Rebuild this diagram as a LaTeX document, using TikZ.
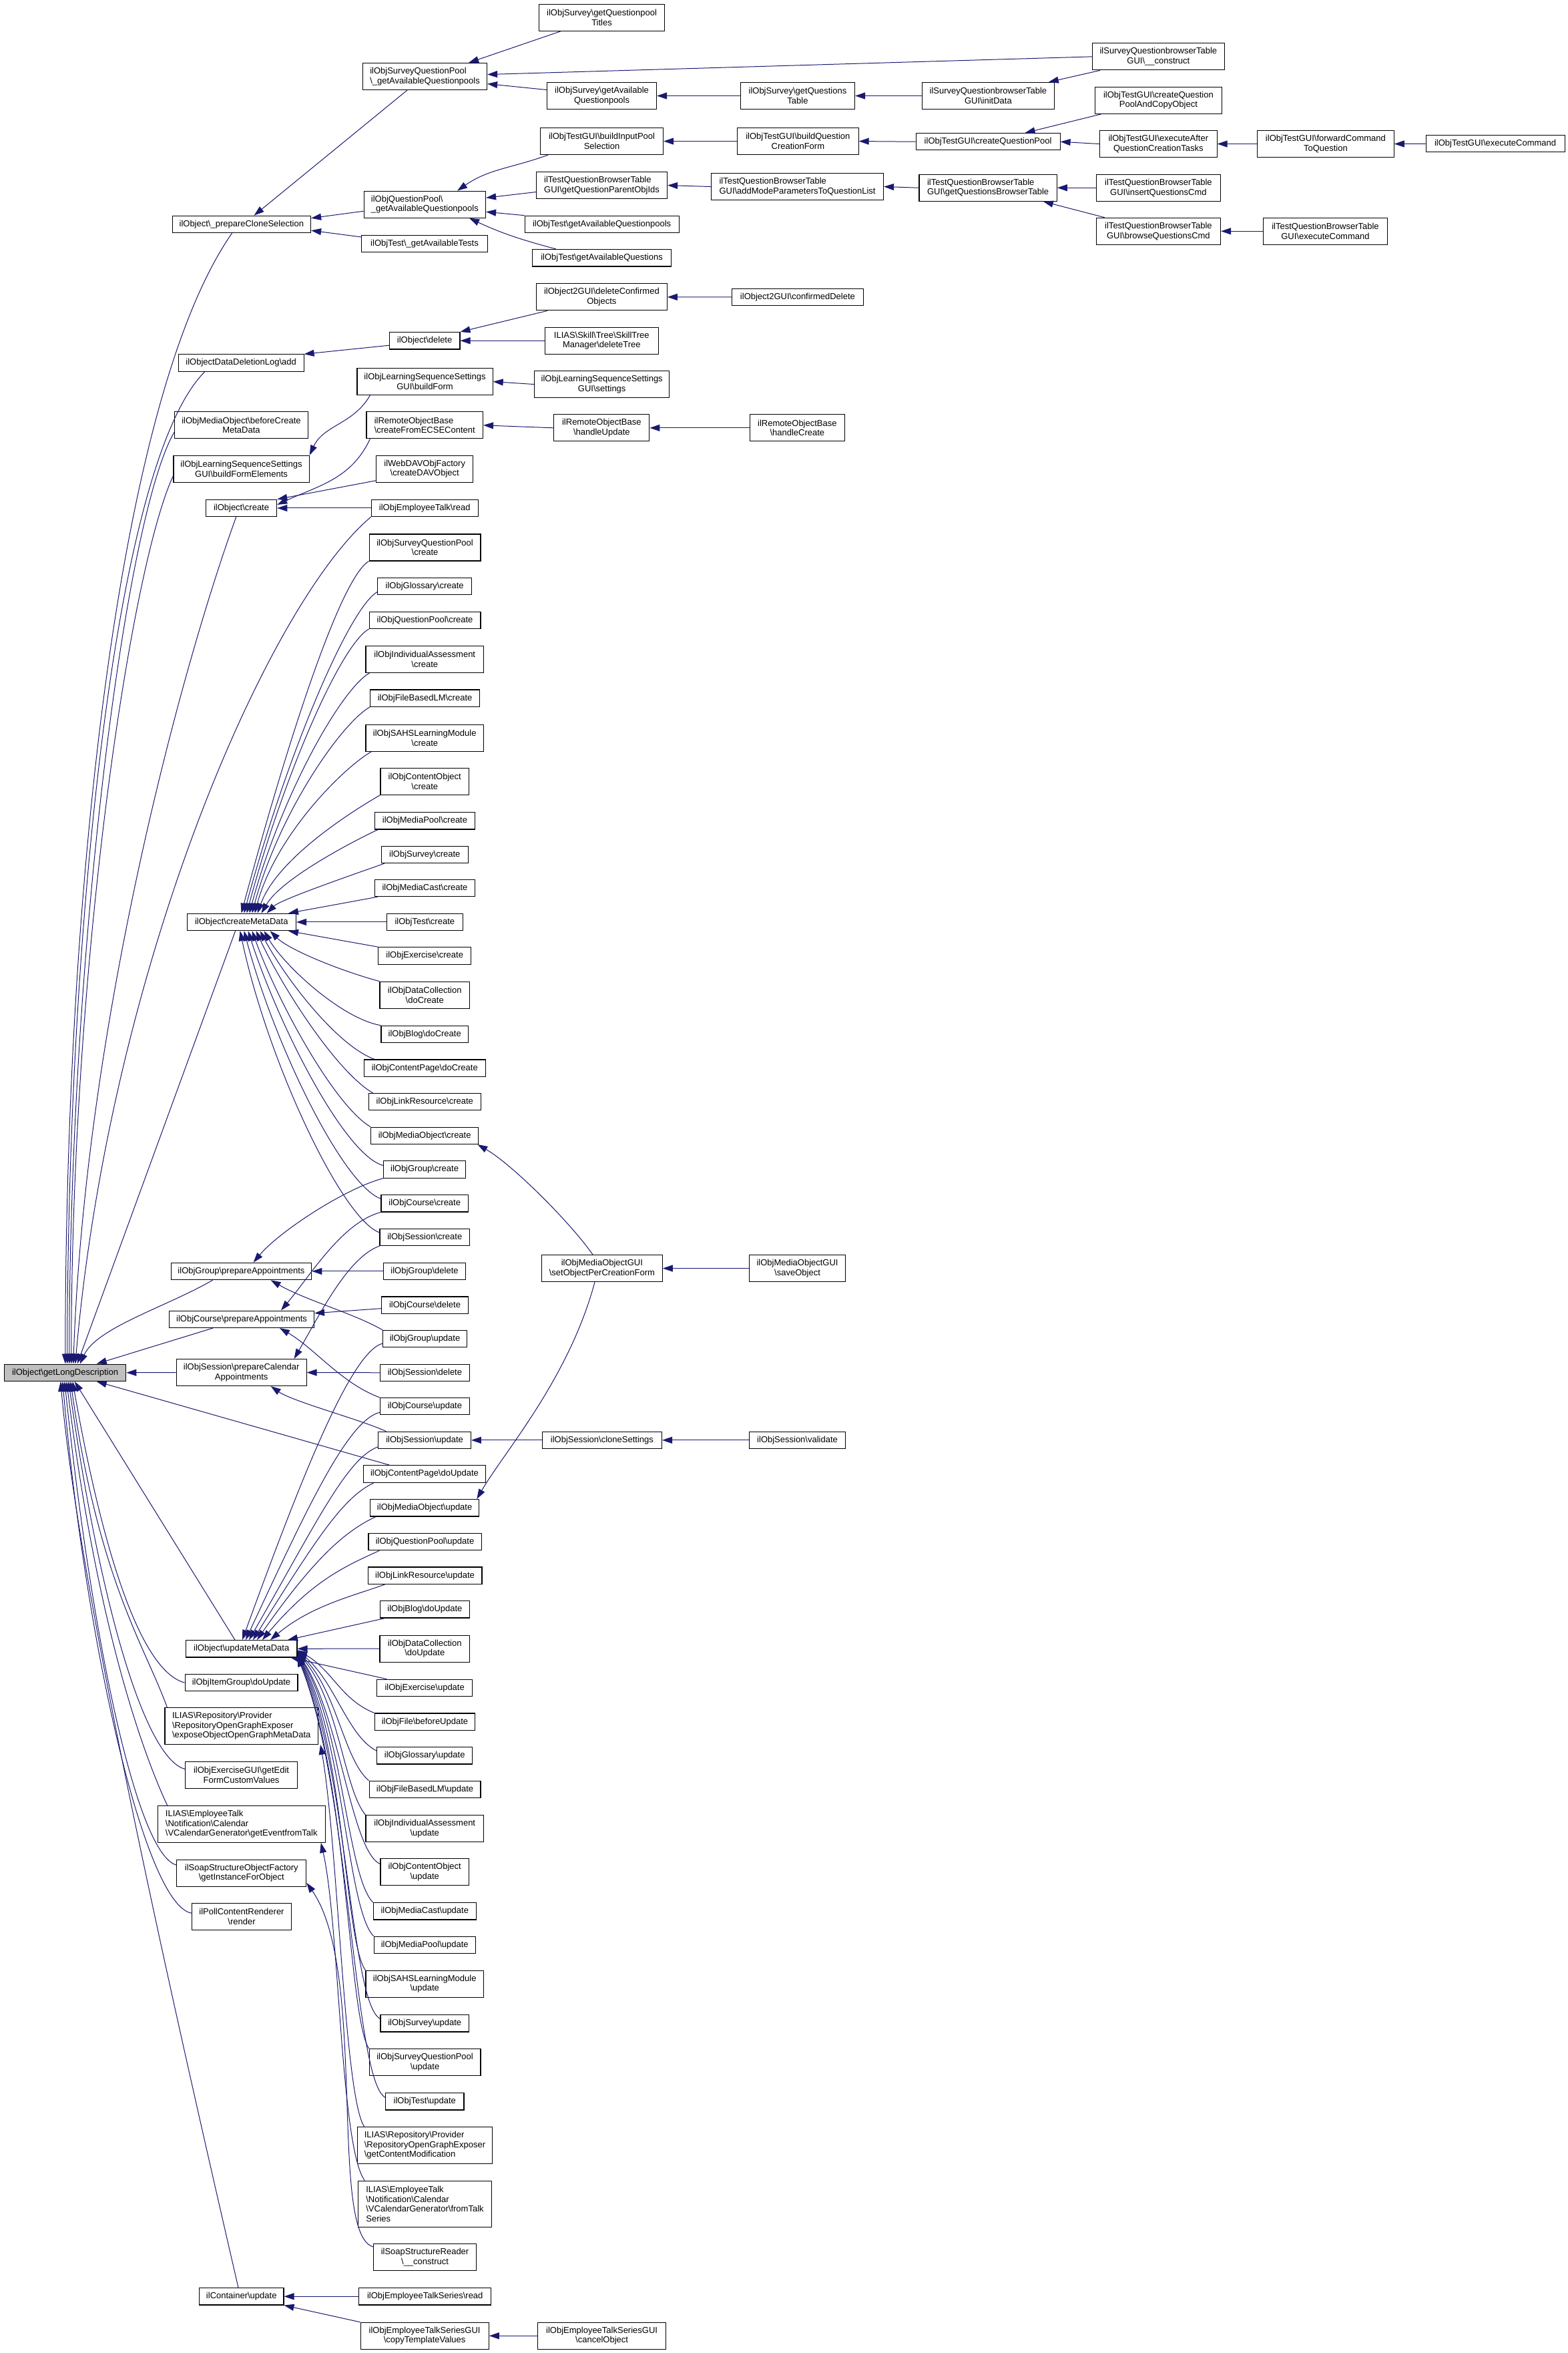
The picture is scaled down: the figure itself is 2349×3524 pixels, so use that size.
\documentclass[tikz,border=0pt]{standalone}
\usepackage{fontspec}
\setmainfont{Liberation Sans}
\usepackage{tikz}
\usetikzlibrary{arrows.meta}
\definecolor{edgeblue}{HTML}{191970}
\definecolor{rootgray}{HTML}{BFBFBF}
\newcommand{\bksl}{\textbackslash}

\begin{document}
\begin{tikzpicture}[x=1pt, y=1pt,
    fn/.style={draw=black, line width=1.1pt, fill=white, anchor=north west, inner sep=0pt, minimum height=25.4pt, align=center, font=\fontsize{13}{14.6}\selectfont},
    two/.style={minimum height=40pt},
    three/.style={minimum height=54.8pt},
    four/.style={minimum height=69.6pt},
    call/.style={draw=edgeblue, line width=1pt, -{Triangle[length=15pt, width=10pt]}}]

    \useasboundingbox (0,0) rectangle (2349,-3524);

    % column 1
    \node [fn, fill=rootgray, minimum width=182.4pt] (root) at (5.8,-2042.5) {ilObject\bksl getLongDescription};

    % column 2
    \node [fn, minimum width=207.4pt] (prepclone) at (257.6,-322.7) {ilObject\bksl\_prepareCloneSelection};
    \node [fn, minimum width=187.8pt] (dellogadd) at (266.7,-530.3) {ilObjectDataDeletionLog\bksl add};
    \node [fn, two, minimum width=200.1pt] (mobbefore) at (260.9,-616.3) {ilObjMediaObject\bksl beforeCreate\\MetaData};
    \node [fn, two, minimum width=203.2pt] (lsbfe) at (259.4,-681.7) {ilObjLearningSequenceSettings\\GUI\bksl buildFormElements};
    \node [fn, minimum width=106.4pt] (objcreate) at (307.8,-747.7) {ilObject\bksl create};
    \node [fn, minimum width=163.3pt] (createmd) at (279.6,-1367.7) {ilObject\bksl createMetaData};
    \node [fn, minimum width=210.7pt] (grpprep) at (255.6,-1890.7) {ilObjGroup\bksl prepareAppointments};
    \node [fn, minimum width=217pt] (crsprep) at (253,-1962.5) {ilObjCourse\bksl prepareAppointments};
    \node [fn, two, minimum width=194.8pt] (sessprep) at (263.7,-2035) {ilObjSession\bksl prepareCalendar\\Appointments};
    \node [fn, minimum width=166.4pt] (updatemd) at (278,-2456) {ilObject\bksl updateMetaData};
    \node [fn, minimum width=168.9pt] (itgrpupd) at (276.5,-2506.8) {ilObjItemGroup\bksl doUpdate};
    \node [fn, three, align=left, minimum width=229.6pt] (ogexpose) at (246.4,-2557) {ILIAS\bksl Repository\bksl Provider\\\bksl RepositoryOpenGraphExposer\\\bksl exposeObjectOpenGraphMetaData};
    \node [fn, two, minimum width=168pt] (excgui) at (277,-2637.9) {ilObjExerciseGUI\bksl getEdit\\FormCustomValues};
    \node [fn, three, align=left, minimum width=251pt] (vcaltalk) at (235.7,-2704) {ILIAS\bksl EmployeeTalk\\\bksl Notification\bksl Calendar\\\bksl VCalendarGenerator\bksl getEventfromTalk};
    \node [fn, two, minimum width=193.9pt] (soapfact) at (264.3,-2784.6) {ilSoapStructureObjectFactory\\\bksl getInstanceForObject};
    \node [fn, two, minimum width=149.5pt] (pollrender) at (286.7,-2849.6) {ilPollContentRenderer\\\bksl render};
    \node [fn, minimum width=126.4pt] (contupd) at (298,-3426) {ilContainer\bksl update};

    % column 3
    \node [fn, two, align=left, minimum width=186pt] (sqpgaq) at (543,-94) {ilObjSurveyQuestionPool\\\bksl\_getAvailableQuestionpools};
    \node [fn, two, align=left, minimum width=182.4pt] (qpgaq) at (544.6,-285.7) {ilObjQuestionPool\bksl\\\_getAvailableQuestionpools};
    \node [fn, minimum width=189pt] (tstgat) at (541,-351.7) {ilObjTest\bksl\_getAvailableTests};
    \node [fn, minimum width=105.6pt] (objdelete) at (582.8,-497) {ilObject\bksl delete};
    \node [fn, two, minimum width=203.2pt] (lsbf) at (534.4,-551) {ilObjLearningSequenceSettings\\GUI\bksl buildForm};
    \node [fn, two, align=left, minimum width=174.6pt] (rmtecs) at (548.4,-616.3) {ilRemoteObjectBase\\\bksl createFromECSEContent};
    \node [fn, two, minimum width=145.3pt] (davcreate) at (563,-681.7) {ilWebDAVObjFactory\\\bksl createDAVObject};
    \node [fn, minimum width=160pt] (etalkread) at (555.7,-747.7) {ilObjEmployeeTalk\bksl read};
    \node [fn, two, minimum width=166.8pt] (sqpcreate) at (552.6,-799.4) {ilObjSurveyQuestionPool\\\bksl create};
    \node [fn, minimum width=140.7pt] (glocreate) at (565.3,-864.9) {ilObjGlossary\bksl create};
    \node [fn, minimum width=166.8pt] (qpcreate) at (552.6,-915.5) {ilObjQuestionPool\bksl create};
    \node [fn, two, minimum width=176.6pt] (iacreate) at (547.4,-966.9) {ilObjIndividualAssessment\\\bksl create};
    \node [fn, minimum width=164pt] (flmcreate) at (554,-1032.4) {ilObjFileBasedLM\bksl create};
    \node [fn, two, minimum width=176.6pt] (sahscreate) at (547.4,-1084.6) {ilObjSAHSLearningModule\\\bksl create};
    \node [fn, two, minimum width=132.6pt] (cobjcreate) at (569.4,-1149.7) {ilObjContentObject\\\bksl create};
    \node [fn, minimum width=149.5pt] (mepcreate) at (561.2,-1216) {ilObjMediaPool\bksl create};
    \node [fn, minimum width=129.5pt] (svycreate) at (571,-1266.6) {ilObjSurvey\bksl create};
    \node [fn, minimum width=150.5pt] (mcstcreate) at (560.7,-1316.7) {ilObjMediaCast\bksl create};
    \node [fn, minimum width=114.3pt] (tstcreate) at (578.6,-1367.7) {ilObjTest\bksl create};
    \node [fn, minimum width=138.7pt] (exccreate) at (566.3,-1418.2) {ilObjExercise\bksl create};
    \node [fn, two, minimum width=134.6pt] (dclcreate) at (568.4,-1469.6) {ilObjDataCollection\\\bksl doCreate};
    \node [fn, minimum width=130.6pt] (blgcreate) at (570.4,-1535.7) {ilObjBlog\bksl doCreate};
    \node [fn, minimum width=181.5pt] (cpgcreate) at (545,-1586.4) {ilObjContentPage\bksl doCreate};
    \node [fn, minimum width=168.5pt] (webrcreate) at (551.5,-1636.8) {ilObjLinkResource\bksl create};
    \node [fn, minimum width=161.3pt] (mobcreate) at (555,-1687.5) {ilObjMediaObject\bksl create};
    \node [fn, minimum width=123pt] (grpcreate) at (574,-1738.2) {ilObjGroup\bksl create};
    \node [fn, minimum width=130.6pt] (crscreate) at (570.4,-1789) {ilObjCourse\bksl create};
    \node [fn, minimum width=134.6pt] (sesscreate) at (568.4,-1839.6) {ilObjSession\bksl create};
    \node [fn, minimum width=123pt] (grpdelete) at (574,-1890.7) {ilObjGroup\bksl delete};
    \node [fn, minimum width=129.4pt] (crsdelete) at (571.3,-1941.4) {ilObjCourse\bksl delete};
    \node [fn, minimum width=126pt] (grpupdate) at (573,-1991.8) {ilObjGroup\bksl update};
    \node [fn, minimum width=134.2pt] (sessdelete) at (568.8,-2042.5) {ilObjSession\bksl delete};
    \node [fn, minimum width=134.2pt] (crsupdate) at (568.8,-2092.9) {ilObjCourse\bksl update};
    \node [fn, minimum width=138.5pt] (sessupdate) at (566.3,-2143.6) {ilObjSession\bksl update};
    \node [fn, minimum width=183pt] (cpgupdate) at (544,-2194.3) {ilObjContentPage\bksl doUpdate};
    \node [fn, minimum width=163.2pt] (mobupdate) at (554,-2245) {ilObjMediaObject\bksl update};
    \node [fn, minimum width=169.2pt] (qpupdate) at (551.4,-2295.7) {ilObjQuestionPool\bksl update};
    \node [fn, minimum width=170.8pt] (webrupdate) at (550.6,-2346.4) {ilObjLinkResource\bksl update};
    \node [fn, minimum width=134.2pt] (blgupdate) at (568.8,-2397) {ilObjBlog\bksl doUpdate};
    \node [fn, two, minimum width=134.6pt] (dclupdate) at (568.4,-2448.6) {ilObjDataCollection\\\bksl doUpdate};
    \node [fn, minimum width=142.7pt] (excupdate) at (564.3,-2514.6) {ilObjExercise\bksl update};
    \node [fn, minimum width=150.5pt] (filebefore) at (560.7,-2565.4) {ilObjFile\bksl beforeUpdate};
    \node [fn, minimum width=142.7pt] (gloupdate) at (564.3,-2616) {ilObjGlossary\bksl update};
    \node [fn, minimum width=166.8pt] (flmupdate) at (552.6,-2666.8) {ilObjFileBasedLM\bksl update};
    \node [fn, two, minimum width=176.6pt] (iaupdate) at (547.4,-2717.9) {ilObjIndividualAssessment\\\bksl update};
    \node [fn, two, minimum width=132.6pt] (cobjupdate) at (569.4,-2783.2) {ilObjContentObject\\\bksl update};
    \node [fn, minimum width=154.1pt] (mcstupdate) at (558.7,-2849) {ilObjMediaCast\bksl update};
    \node [fn, minimum width=152pt] (mepupdate) at (559.7,-2899.6) {ilObjMediaPool\bksl update};
    \node [fn, two, minimum width=176.6pt] (sahsupdate) at (547.4,-2950.7) {ilObjSAHSLearningModule\\\bksl update};
    \node [fn, minimum width=132.6pt] (svyupdate) at (569.4,-3017) {ilObjSurvey\bksl update};
    \node [fn, two, minimum width=166.8pt] (sqpupdate) at (552.6,-3068) {ilObjSurveyQuestionPool\\\bksl update};
    \node [fn, minimum width=117.4pt] (tstupdate) at (577,-3134) {ilObjTest\bksl update};
    \node [fn, three, align=left, minimum width=202.5pt] (ogcontent) at (534.7,-3185) {ILIAS\bksl Repository\bksl Provider\\\bksl RepositoryOpenGraphExposer\\\bksl getContentModification};
    \node [fn, four, align=left, minimum width=199.5pt] (vcalseries) at (536.2,-3265.5) {ILIAS\bksl EmployeeTalk\\\bksl Notification\bksl Calendar\\\bksl VCalendarGenerator\bksl fromTalk\\Series};
    \node [fn, two, minimum width=153.6pt] (soapreader) at (559.2,-3360) {ilSoapStructureReader\\\bksl\_\_construct};
    \node [fn, minimum width=198pt] (etsread) at (537.2,-3426) {ilObjEmployeeTalkSeries\bksl read};
    \node [fn, two, minimum width=192.2pt] (etsgcopy) at (539.5,-3477.7) {ilObjEmployeeTalkSeriesGUI\\\bksl copyTemplateValues};

    % column 4
    \node [fn, two, minimum width=188pt] (svytitles) at (807,-5.7) {ilObjSurvey\bksl getQuestionpool\\Titles};
    \node [fn, two, minimum width=164pt] (svygaq) at (819,-123) {ilObjSurvey\bksl getAvailable\\Questionpools};
    \node [fn, two, minimum width=184pt] (tguiinput) at (809,-191) {ilObjTestGUI\bksl buildInputPool\\Selection};
    \node [fn, two, align=left, minimum width=196pt] (tqbtparent) at (803,-257) {ilTestQuestionBrowserTable\\GUI\bksl getQuestionParentObjIds};
    \node [fn, minimum width=230.8pt] (tstgaqp) at (785.7,-322.7) {ilObjTest\bksl getAvailableQuestionpools};
    \node [fn, minimum width=208pt] (tstgaqs) at (797,-373) {ilObjTest\bksl getAvailableQuestions};
    \node [fn, two, minimum width=195.7pt] (o2delobj) at (803,-424.3) {ilObject2GUI\bksl deleteConfirmed\\Objects};
    \node [fn, two, minimum width=169.5pt] (skldel) at (816,-489.7) {ILIAS\bksl Skill\bksl Tree\bksl SkillTree\\Manager\bksl deleteTree};
    \node [fn, two, minimum width=202.3pt] (lssettings) at (800,-555) {ilObjLearningSequenceSettings\\GUI\bksl settings};
    \node [fn, two, minimum width=143pt] (rmtupdate) at (829.3,-620.3) {ilRemoteObjectBase\\\bksl handleUpdate};
    \node [fn, two, minimum width=180.7pt] (mobguiset) at (811,-1879) {ilObjMediaObjectGUI\\\bksl setObjectPerCreationForm};
    \node [fn, minimum width=179.1pt] (sessclone) at (811.8,-2143.6) {ilObjSession\bksl cloneSettings};
    \node [fn, two, minimum width=191.5pt] (etsgcancel) at (805.3,-3477.7) {ilObjEmployeeTalkSeriesGUI\\\bksl cancelObject};

    % column 5
    \node [fn, two, minimum width=171.2pt] (svyqtable) at (1108.8,-123) {ilObjSurvey\bksl getQuestions\\Table};
    \node [fn, two, minimum width=181.6pt] (tguibqcf) at (1104,-191) {ilObjTestGUI\bksl buildQuestion\\CreationForm};
    \node [fn, two, align=left, minimum width=258pt] (tqbtaddmode) at (1065,-259) {ilTestQuestionBrowserTable\\GUI\bksl addModeParametersToQuestionList};
    \node [fn, minimum width=196.8pt] (o2confdel) at (1096,-431.7) {ilObject2GUI\bksl confirmedDelete};
    \node [fn, two, minimum width=142.4pt] (rmtcreate) at (1122.6,-620.3) {ilRemoteObjectBase\\\bksl handleCreate};
    \node [fn, two, minimum width=144pt] (mobguisave) at (1122,-1879) {ilObjMediaObjectGUI\\\bksl saveObject};
    \node [fn, minimum width=144pt] (sessvalidate) at (1122,-2143.6) {ilObjSession\bksl validate};

    % columns 6 to 9
    \node [fn, two, minimum width=197.7pt] (sqbtinit) at (1381,-123) {ilSurveyQuestionbrowserTable\\GUI\bksl initData};
    \node [fn, minimum width=215.9pt] (tguicqp) at (1371.6,-199) {ilObjTestGUI\bksl createQuestionPool};
    \node [fn, two, align=left, minimum width=206.3pt] (tqbtbrowse) at (1376.4,-260.7) {ilTestQuestionBrowserTable\\GUI\bksl getQuestionsBrowserTable};
    \node [fn, two, minimum width=197.6pt] (sqbtconstr) at (1636,-64.3) {ilSurveyQuestionbrowserTable\\GUI\bksl\_\_construct};
    \node [fn, two, minimum width=189.7pt] (tguicqpcopy) at (1640,-129.7) {ilObjTestGUI\bksl createQuestion\\PoolAndCopyObject};
    \node [fn, two, minimum width=175.5pt] (tguiafter) at (1647,-195) {ilObjTestGUI\bksl executeAfter\\QuestionCreationTasks};
    \node [fn, two, minimum width=186.3pt] (tqbtinsert) at (1641.7,-260.7) {ilTestQuestionBrowserTable\\GUI\bksl insertQuestionsCmd};
    \node [fn, two, minimum width=186.3pt] (tqbtbrowsecmd) at (1641.7,-325.7) {ilTestQuestionBrowserTable\\GUI\bksl browseQuestionsCmd};
    \node [fn, two, minimum width=204.7pt] (tguifwd) at (1883,-195) {ilObjTestGUI\bksl forwardCommand\\ToQuestion};
    \node [fn, two, minimum width=186.2pt] (tqbtexec) at (1891.8,-325.7) {ilTestQuestionBrowserTable\\GUI\bksl executeCommand};
    \node [fn, minimum width=208pt] (tguiexec) at (2135.5,-202) {ilObjTestGUI\bksl executeCommand};

    % top right chains
    \draw [call] ([xshift=33pt]svytitles.south west) -- ([xshift=-28pt]sqpgaq.north east);
    \draw [call] (sqbtconstr.west) -- ([yshift=3pt]sqpgaq.east);
    \draw [call] ([yshift=9pt]svygaq.west) -- ([yshift=-11pt]sqpgaq.east);
    \draw [call] (svyqtable.west) -- (svygaq.east);
    \draw [call] (sqbtinit.west) -- (svyqtable.east);
    \draw [call] ([xshift=12pt]sqbtconstr.south west) -- ([xshift=-9pt]sqbtinit.north east);
    \draw [call] ([xshift=67pt]sqpgaq.south west) -- ([xshift=123pt]prepclone.north west);
    \draw [call] ([xshift=12pt]tguiinput.south west) to[out=200, in=35] ([xshift=-43pt]qpgaq.north east);
    \draw [call] ([yshift=-10pt]tqbtparent.west) -- ([yshift=10pt]qpgaq.east);
    \draw [call] (tstgaqp.north west) -- ([yshift=-11pt]qpgaq.east);
    \draw [call] ([xshift=36pt]tstgaqs.north west) to[out=165, in=-25] ([xshift=-25pt]qpgaq.south east);
    \draw [call] ([yshift=-10pt]qpgaq.west) -- ([yshift=-4pt]prepclone.north east);
    \draw [call] ([yshift=10pt]tstgat.west) -- ([yshift=4pt]prepclone.south east);
    \draw [call] (tguibqcf.west) -- (tguiinput.east);
    \draw [call] (tguicqp.west) -- (tguibqcf.east);
    \draw [call] ([xshift=10pt]tguicqpcopy.south west) -- ([xshift=-53pt]tguicqp.north east);
    \draw [call] (tguiafter.west) -- (tguicqp.east);
    \draw [call] (tguifwd.west) -- (tguiafter.east);
    \draw [call] (tguiexec.west) -- (tguifwd.east);
    \draw [call] (tqbtaddmode.west) -- (tqbtparent.east);
    \draw [call] (tqbtbrowse.west) -- (tqbtaddmode.east);
    \draw [call] (tqbtinsert.west) -- (tqbtbrowse.east);
    \draw [call] ([xshift=13pt]tqbtbrowsecmd.north west) -- ([xshift=-21pt]tqbtbrowse.south east);
    \draw [call] (tqbtexec.west) -- (tqbtbrowsecmd.east);

    % delete, settings, remote
    \draw [call] (o2confdel.west) -- (o2delobj.east);
    \draw [call] ([xshift=17pt]o2delobj.south west) -- (objdelete.north east);
    \draw [call] (skldel.west) -- (objdelete.east);
    \draw [call] ([yshift=-7pt]objdelete.west) -- (dellogadd.north east);
    \draw [call] (lssettings.west) -- (lsbf.east);
    \draw [call] ([xshift=20pt]lsbf.south west) to[out=240, in=65] (lsbfe.north east);
    \draw [call] (rmtupdate.west) -- (rmtecs.east);
    \draw [call] (rmtcreate.west) -- (rmtupdate.east);
    \draw [call] ([xshift=6pt]rmtecs.south west) to[out=245, in=25] ([yshift=5pt]objcreate.east);
    \draw [call] ([yshift=3pt]davcreate.south west) -- (objcreate.north east);
    \draw [call] (etalkread.west) -- (objcreate.east);

    % into the root from above
    \draw [call] ([xshift=90pt]prepclone.south west) .. controls +(235:300) and +(90:700) .. ([xshift=92pt]root.north west);
    \draw [call] ([xshift=40pt]dellogadd.south west) .. controls +(225:200) and +(90:600) .. ([xshift=95pt]root.north west);
    \draw [call] ([yshift=10pt]mobbefore.south west) .. controls +(240:150) and +(90:600) .. ([xshift=98pt]root.north west);
    \draw [call] ([yshift=10pt]lsbfe.south west) .. controls +(245:150) and +(90:600) .. ([xshift=101pt]root.north west);
    \draw [call] ([xshift=46pt]objcreate.south west) .. controls +(250:250) and +(88:500) .. ([xshift=104pt]root.north west);
    \draw [call] (etalkread.south west) .. controls +(220:200) and +(85:600) .. ([xshift=107pt]root.north west);
    \draw [call] ([xshift=73pt]createmd.south west) -- ([xshift=110pt]root.north west);
    \draw [call] ([xshift=63pt]grpprep.south west) .. controls +(210:80) and +(65:60) .. ([xshift=114pt]root.north west);
    \draw [call] ([xshift=66pt]crsprep.south west) -- ([xshift=139pt]root.north west);
    \draw [call] (sessprep.west) -- (root.east);

    % into the root from below
    \draw [call] ([xshift=40pt]cpgupdate.north west) -- ([xshift=139pt]root.south west);
    \draw [call] ([xshift=74pt]updatemd.north west) -- ([xshift=106pt]root.south west);
    \draw [call] (itgrpupd.west) .. controls +(165:70) and +(-80:250) .. ([xshift=103pt]root.south west);
    \draw [call] ([xshift=4pt]ogexpose.north west) .. controls +(110:100) and +(-82:300) .. ([xshift=100pt]root.south west);
    \draw [call] ([yshift=9pt]excgui.west) .. controls +(165:60) and +(-82:350) .. ([xshift=97pt]root.south west);
    \draw [call] ([xshift=15pt]vcaltalk.north west) .. controls +(115:100) and +(-83:350) .. ([xshift=94pt]root.south west);
    \draw [call] ([yshift=12pt]soapfact.west) .. controls +(165:60) and +(-84:400) .. ([xshift=91pt]root.south west);
    \draw [call] ([yshift=5pt]pollrender.west) .. controls +(170:70) and +(-85:400) .. ([xshift=88pt]root.south west);
    \draw [call] ([xshift=59pt]contupd.north west) .. controls +(103:500) and +(-85:300) .. ([xshift=85pt]root.south west);

    % into createMetaData
    \draw [call] (sqpcreate.south west) .. controls +(210:50) and +(75:260) .. ([xshift=82pt]createmd.north west);
    \draw [call] ([yshift=5pt]glocreate.south west) .. controls +(210:50) and +(75:240) .. ([xshift=86pt]createmd.north west);
    \draw [call] (qpcreate.south west) .. controls +(210:50) and +(75:210) .. ([xshift=90pt]createmd.north west);
    \draw [call] ([xshift=6pt]iacreate.south west) .. controls +(210:50) and +(75:180) .. ([xshift=94pt]createmd.north west);
    \draw [call] (flmcreate.south west) .. controls +(210:50) and +(75:155) .. ([xshift=98pt]createmd.north west);
    \draw [call] ([xshift=9pt]sahscreate.south west) .. controls +(210:50) and +(75:120) .. ([xshift=102pt]createmd.north west);
    \draw [call] (cobjcreate.south west) .. controls +(210:40) and +(70:90) .. ([xshift=106pt]createmd.north west);
    \draw [call] ([xshift=5pt]mepcreate.south west) .. controls +(205:40) and +(60:60) .. ([xshift=112pt]createmd.north west);
    \draw [call] ([xshift=5pt]svycreate.south west) .. controls +(200:30) and +(45:30) .. ([xshift=120pt]createmd.north west);
    \draw [call] ([xshift=5pt]mcstcreate.south west) -- ([xshift=-12pt]createmd.north east);
    \draw [call] (tstcreate.west) -- (createmd.east);
    \draw [call] (exccreate.north west) -- ([xshift=-12pt]createmd.south east);
    \draw [call] (dclcreate.north west) .. controls +(165:60) and +(-45:40) .. ([xshift=125pt]createmd.south west);
    \draw [call] (blgcreate.north west) .. controls +(170:60) and +(-60:60) .. ([xshift=116pt]createmd.south west);
    \draw [call] ([xshift=16pt]cpgcreate.north west) .. controls +(160:60) and +(-62:80) .. ([xshift=110pt]createmd.south west);
    \draw [call] ([xshift=7pt]webrcreate.north west) .. controls +(150:60) and +(-65:100) .. ([xshift=104pt]createmd.south west);
    \draw [call] (mobcreate.north west) .. controls +(150:60) and +(-70:120) .. ([xshift=98pt]createmd.south west);
    \draw [call] ([yshift=6pt]grpcreate.west) .. controls +(165:60) and +(-72:150) .. ([xshift=92pt]createmd.south west);
    \draw [call] ([yshift=7pt]crscreate.west) .. controls +(160:60) and +(-75:180) .. ([xshift=86pt]createmd.south west);
    \draw [call] ([yshift=7pt]sesscreate.west) .. controls +(160:60) and +(-78:200) .. ([xshift=80pt]createmd.south west);

    % appointments
    \draw [call] (grpcreate.south west) .. controls +(195:60) and +(50:60) .. ([xshift=124pt]grpprep.north west);
    \draw [call] (grpdelete.west) -- (grpprep.east);
    \draw [call] (grpupdate.north west) .. controls +(150:50) and +(-30:60) .. ([xshift=150pt]grpprep.south west);
    \draw [call] (crscreate.south west) .. controls +(195:60) and +(50:70) .. ([xshift=168pt]crsprep.north west);
    \draw [call] ([yshift=-5pt]crsdelete.west) -- ([yshift=9pt]crsprep.east);
    \draw [call] (crsupdate.north west) .. controls +(160:60) and +(-30:60) .. ([xshift=166pt]crsprep.south west);
    \draw [call] (sesscreate.south west) .. controls +(200:50) and +(60:80) .. ([xshift=-19pt]sessprep.north east);
    \draw [call] (sessdelete.west) -- (sessprep.east);
    \draw [call] ([xshift=12pt]sessupdate.north west) .. controls +(155:40) and +(-35:40) .. ([xshift=142pt]sessprep.south west);
    \draw [call] (sessclone.west) -- (sessupdate.east);
    \draw [call] (sessvalidate.west) -- (sessclone.east);
    \draw [call] (mobguisave.west) -- (mobguiset.east);
    \draw [call] ([xshift=77pt]mobguiset.north west) .. controls +(125:60) and +(-30:60) .. ([xshift=-2pt]mobcreate.south east);
    \draw [call] ([xshift=80pt]mobguiset.south west) .. controls +(255:150) and +(60:80) .. ([xshift=-4pt]mobupdate.north east);

    % into updateMetaData
    \draw [call] ([yshift=-7pt]grpupdate.west) .. controls +(195:50) and +(70:250) .. ([xshift=85pt]updatemd.north west);
    \draw [call] ([yshift=-9pt]crsupdate.west) .. controls +(195:50) and +(65:220) .. ([xshift=90pt]updatemd.north west);
    \draw [call] ([yshift=-10pt]sessupdate.west) .. controls +(200:50) and +(60:200) .. ([xshift=95pt]updatemd.north west);
    \draw [call] ([xshift=16pt]cpgupdate.south west) .. controls +(205:50) and +(58:180) .. ([xshift=101pt]updatemd.north west);
    \draw [call] ([xshift=9pt]mobupdate.south west) .. controls +(205:50) and +(55:150) .. ([xshift=107pt]updatemd.north west);
    \draw [call] ([xshift=17pt]qpupdate.south west) .. controls +(205:50) and +(50:120) .. ([xshift=115pt]updatemd.north west);
    \draw [call] ([xshift=26pt]webrupdate.south west) .. controls +(200:50) and +(40:80) .. ([xshift=127pt]updatemd.north west);
    \draw [call] ([xshift=8pt]blgupdate.south west) -- ([xshift=153pt]updatemd.north west);
    \draw [call] (dclupdate.west) -- (updatemd.east);
    \draw [call] ([xshift=15pt]excupdate.north west) -- ([xshift=-10pt]updatemd.south east);
    \draw [call] (filebefore.north west) .. controls +(158:54) and +(-30:61) .. ([yshift=-2pt]updatemd.east);
    \draw [call] ([yshift=7pt]gloupdate.west) .. controls +(153:49) and +(-39:72) .. ([yshift=-3pt]updatemd.east);
    \draw [call] (flmupdate.north west) .. controls +(140:49) and +(-45:84) .. ([yshift=-4pt]updatemd.east);
    \draw [call] (iaupdate.north west) .. controls +(130:50) and +(-50:97) .. ([yshift=-5pt]updatemd.east);
    \draw [call] ([yshift=12pt]cobjupdate.west) .. controls +(154:49) and +(-56:115) .. ([yshift=-6pt]updatemd.east);
    \draw [call] (mcstupdate.north west) .. controls +(135:55) and +(-58:129) .. ([yshift=-7pt]updatemd.east);
    \draw [call] (mepupdate.north west) .. controls +(135:56) and +(-61:143) .. ([yshift=-8pt]updatemd.east);
    \draw [call] (sahsupdate.north west) .. controls +(125:55) and +(-63:157) .. ([yshift=-9pt]updatemd.east);
    \draw [call] ([yshift=7pt]svyupdate.west) .. controls +(153:50) and +(-65:176) .. ([yshift=-10pt]updatemd.east);
    \draw [call] (sqpupdate.north west) .. controls +(123:57) and +(-67:191) .. ([yshift=-11pt]updatemd.east);
    \draw [call] ([yshift=6pt]tstupdate.west) .. controls +(151:54) and +(-68:210) .. ([yshift=-12pt]updatemd.east);

    % lower left
    \draw [call] ([xshift=11pt]ogcontent.north west) .. controls +(124:54) and +(-80:152) .. ([xshift=3pt]ogexpose.south east);
    \draw [call] ([xshift=10pt]vcalseries.north west) .. controls +(126:62) and +(-77:123) .. ([xshift=-7pt]vcaltalk.south east);
    \draw [call] ([yshift=-5pt]soapreader.north west) .. controls +(165:70) and +(-55:160) .. ([yshift=6pt]soapfact.south east);
    \draw [call] (etsread.west) -- (contupd.east);
    \draw [call] (etsgcopy.north west) -- (contupd.south east);
    \draw [call] (etsgcancel.west) -- (etsgcopy.east);
\end{tikzpicture}
\end{document}
